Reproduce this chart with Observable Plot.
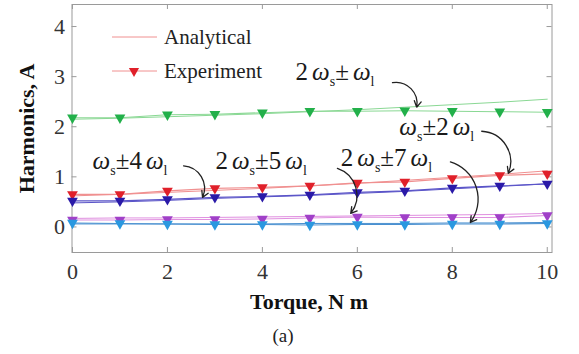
<!DOCTYPE html>
<html><head><meta charset="utf-8">
<script src="https://cdn.jsdelivr.net/npm/d3@7"></script>
<script src="https://cdn.jsdelivr.net/npm/@observablehq/plot@0.6"></script>
<style>
body{margin:0;background:#fff;}
#wrap{width:579px;height:354px;}
#wrap svg, #wrap svg text { font-family: "Liberation Serif", "Times New Roman", Tinos, "DejaVu Serif", serif !important; }
</style></head><body><div id="wrap"></div>
<script>
// ---- data ----
const torque = [0,1,2,3,4,5,6,7,8,9,10];
const xTicks = [0,2,4,6,8,10];
const yTicks = [0,1,2,3,4];
const seriesKeys = ["2s1","s2","s4","2s5","2s7"];
const analytical = {
  "2s1": [2.15,2.17,2.20,2.23,2.26,2.30,2.34,2.39,2.44,2.49,2.55],
  "s2":  [0.62,0.65,0.69,0.73,0.77,0.82,0.87,0.93,0.99,1.05,1.12],
  "s4":  [0.48,0.50,0.53,0.57,0.60,0.63,0.67,0.71,0.76,0.81,0.86],
  "2s5": [0.17,0.18,0.18,0.19,0.20,0.21,0.22,0.23,0.24,0.25,0.27],
  "2s7": [0.06,0.06,0.06,0.06,0.06,0.07,0.07,0.07,0.08,0.08,0.09]
};
const experiment = {
  "2s1": [2.18,2.18,2.24,2.25,2.28,2.31,2.31,2.32,2.31,2.30,2.29],
  "s2":  [0.65,0.65,0.72,0.77,0.79,0.82,0.88,0.90,0.97,1.03,1.06],
  "s4":  [0.52,0.52,0.55,0.59,0.61,0.64,0.69,0.72,0.78,0.82,0.86],
  "2s5": [0.14,0.14,0.15,0.15,0.16,0.18,0.20,0.19,0.19,0.19,0.23],
  "2s7": [0.08,0.07,0.06,0.05,0.05,0.04,0.05,0.05,0.06,0.06,0.07]
};
const lineColors   = {"2s1":"#8ad894","s2":"#f09090","s4":"#5a54c8","2s5":"#e090e0","2s7":"#4a90d0"};
const markerColors = {"2s1":"#22b04a","s2":"#e0202a","s4":"#2a1aa8","2s5":"#a040c8","2s7":"#2a98e0"};
// annotation labels: "_x" = subscript
const annLabels = ["2ω_s±ω_l","ω_s±2ω_l","ω_s±4ω_l","2ω_s±5ω_l","2ω_s±7ω_l"];
const annTextX  = [4.70, 6.80, 0.34, 3.01, 5.65];
const annTextY  = [3.10, 1.99, 1.31, 1.31, 1.38];
const arrowX1   = [6.74, 8.62, 2.34, 5.58, 7.96];
const arrowY1   = [2.88, 1.91, 1.22, 1.17, 1.30];
const arrowX2   = [7.25, 9.18, 2.74, 5.86, 8.38];
const arrowY2   = [2.39, 1.07, 0.59, 0.27, 0.09];

// ---- build tables ----
const anaRows = [], expRows = [];
for (const k of seriesKeys) {
  torque.forEach((t,i) => {
    anaRows.push({key:k, t, v: analytical[k][i]});
    expRows.push({key:k, t, v: experiment[k][i]});
  });
}
const ann = annLabels.map((s,i) => ({s, x: annTextX[i], y: annTextY[i], x1: arrowX1[i], y1: arrowY1[i], x2: arrowX2[i], y2: arrowY2[i]}));

const serif = "Liberation Serif, Times New Roman, Tinos, DejaVu Serif, serif";
const plot = Plot.plot({
  width: 579, height: 354,
  marginLeft: 71.5, marginRight: 27.5, marginTop: 4, marginBottom: 102,
  style: {fontFamily: serif, fontSize: "22px", color: "#333", background: "#fff"},
  x: {domain: [-0.01, 10.1]},
  y: {domain: [-0.51, 4.44]},
  marks: [
    Plot.frame({stroke: "#9a9a9a"}),
    Plot.ruleX(xTicks, {x: d => d, insetTop: 243, stroke: "#9a9a9a"}),
    Plot.ruleX(xTicks, {x: d => d, insetBottom: 243, stroke: "#9a9a9a"}),
    Plot.ruleY(yTicks, {y: d => d, insetRight: 475, stroke: "#9a9a9a"}),
    Plot.ruleY(yTicks, {y: d => d, insetLeft: 475, stroke: "#9a9a9a"}),
    Plot.axisX({ticks: xTicks, tickSize: 0, tickPadding: 11, label: null, tickFormat: d => String(d), fill: "#333"}),
    Plot.axisY({ticks: yTicks, tickSize: 0, tickPadding: 7, label: null, tickFormat: d => String(d), fill: "#333"}),
    Plot.line(anaRows, {x: "t", y: "v", z: "key", stroke: d => lineColors[d.key], strokeWidth: 1}),
    Plot.line(expRows, {x: "t", y: "v", z: "key", stroke: d => lineColors[d.key], strokeWidth: 1.1}),
    Plot.dot(expRows, {x: "t", y: "v", symbol: "triangle", rotate: 180, r: 4, fill: d => markerColors[d.key], stroke: "none"}),
    Plot.text(ann, {x: "x", y: "y", text: "s", textAnchor: "start", fontSize: 25, fill: "#1a1a1a"}),
    Plot.arrow(ann, {x1: "x1", y1: "y1", x2: "x2", y2: "y2", bend: 55, stroke: "#222", strokeWidth: 1.3, headLength: 8}),
    Plot.text(["Harmonics, A"], {frameAnchor: "left", textAnchor: "middle", rotate: -90, dx: -45, fontWeight: "bold", fontSize: 22, fill: "#111"}),
    Plot.text(["Torque, N m"], {frameAnchor: "bottom", lineAnchor: "bottom", dy: 56, dx: -3, fontWeight: "bold", fontSize: 22, fill: "#111"}),
    Plot.text(["(a)"], {frameAnchor: "bottom", lineAnchor: "bottom", dy: 89, dx: -29, fontSize: 19, fill: "#222"})
  ]
});

// subscripts / italic omega in annotation labels
const svg = d3.select(plot);
svg.selectAll("text").each(function() {
  const t = this.textContent;
  if (!annLabels.includes(t)) return;
  const el = d3.select(this);
  el.text(null);
  let sub = false;
  for (let i = 0; i < t.length; i++) {
    const c = t[i];
    if (c === "_") {
      const sc = t[++i];
      el.append("tspan").attr("dy", 6).attr("font-size", 14).text(sc);
      sub = true;
      continue;
    }
    const ts = el.append("tspan").text(c);
    if (sub) { ts.attr("dy", -6); sub = false; }
    if (c === "ω") ts.attr("font-style", "italic").attr("dx", 4);
  }
});

// legend (inside plot, upper-left)
const lg = svg.append("g").attr("font-size", 21).attr("fill", "#222").attr("text-anchor", "start");
lg.append("line").attr("x1", 112).attr("x2", 157).attr("y1", 37).attr("y2", 37).attr("stroke", lineColors["s2"]);
lg.append("text").attr("x", 164).attr("y", 44).text("Analytical");
lg.append("line").attr("x1", 112).attr("x2", 157).attr("y1", 71).attr("y2", 71).attr("stroke", lineColors["s2"]);
lg.append("path").attr("d", d3.symbol(d3.symbolTriangle, 45)()).attr("transform", "translate(134,71) rotate(180)").attr("fill", markerColors["s2"]);
lg.append("text").attr("x", 164).attr("y", 78).text("Experiment");

document.getElementById("wrap").appendChild(plot);
</script></body></html>
